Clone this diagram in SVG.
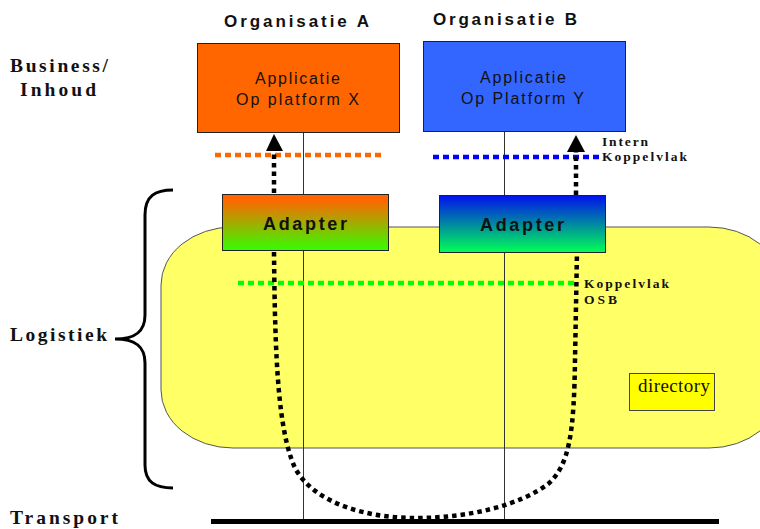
<svg xmlns="http://www.w3.org/2000/svg" width="760" height="529" viewBox="0 0 760 529">
  <defs>
    <linearGradient id="gradA" x1="0" y1="0" x2="0" y2="1">
      <stop offset="0" stop-color="#FF6600"/>
      <stop offset="0.1" stop-color="#FF6600"/>
      <stop offset="1" stop-color="#33FF00"/>
    </linearGradient>
    <linearGradient id="gradB" x1="0" y1="0" x2="0" y2="1">
      <stop offset="0" stop-color="#0011EE"/>
      <stop offset="1" stop-color="#00FF55"/>
    </linearGradient>
    <style>
      .layer { font-family: "Liberation Serif", "Times New Roman", serif; font-weight: bold; font-size: 19.5px; fill: #111; }
      .org { font-family: "Liberation Sans", Arial, sans-serif; font-weight: bold; font-size: 17px; fill: #111; }
      .app { font-family: "Liberation Sans", Arial, sans-serif; font-size: 16px; fill: #111; }
      .adapter { font-family: "Liberation Sans", Arial, sans-serif; font-weight: bold; font-size: 18px; fill: #111; }
      .note { font-family: "Liberation Serif", "Times New Roman", serif; font-weight: bold; font-size: 13.5px; fill: #111; }
      .dir { font-family: "Liberation Serif", "Times New Roman", serif; font-size: 19px; fill: #111; }
      .box { stroke: #222; stroke-width: 1; }
      .vline { stroke: #333; stroke-width: 1; fill: none; }
      .iface { stroke-width: 4.5; stroke-dasharray: 6 4; fill: none; }
      .flow { stroke: #000; stroke-width: 4.5; stroke-dasharray: 4.5 4; fill: none; }
      .head { fill: #000; }
    </style>
  </defs>

  <!-- layer labels -->
  <text class="layer" x="10" y="72" textLength="98" lengthAdjust="spacing">Business/</text>
  <text class="layer" x="20" y="96" textLength="76" lengthAdjust="spacing">Inhoud</text>
  <text class="layer" x="10" y="341" textLength="97" lengthAdjust="spacing">Logistiek</text>
  <text class="layer" x="10" y="524" textLength="108" lengthAdjust="spacing">Transport</text>

  <!-- brace around the logistics layer -->
  <path d="M173,190 C155,190 145,196 145,215 L145,315 C145,332 135,339 115,339 C135,339 145,346 145,363 L145,465 C145,482 155,488 173,488" fill="none" stroke="#000" stroke-width="3"/>

  <!-- service bus -->
  <g id="osb">
    <rect x="161" y="227" width="620" height="221" rx="72" ry="58" fill="#FFFF66" stroke="#555" stroke-width="1"/>
  </g>

  <!-- transport line -->
  <g id="transport">
    <rect x="211" y="519" width="508" height="5" fill="#000"/>
  </g>

  <g id="connectors">
    <!-- vertical platform lines -->
    <line class="vline" x1="303.5" y1="133" x2="303.5" y2="519"/>
    <line class="vline" x1="504.5" y1="132" x2="504.5" y2="519"/>
    <!-- interface lines -->
    <line class="iface" x1="215" y1="155" x2="382" y2="155" stroke="#FF6600"/>
    <line class="iface" x1="433" y1="157" x2="600" y2="157" stroke="#0000FF"/>
    <line class="iface" x1="238" y1="283" x2="577" y2="283" stroke="#00FF00"/>
    <!-- message route -->
    <path class="flow" d="M274,252 C275,360 278,430 295,468 C315,505 370,518 415,518 C470,518 520,505 548,484 C570,465 574,430 575,360 L577,252"/>
    <line class="flow" x1="274" y1="193" x2="274" y2="150"/>
    <line class="flow" x1="576" y1="195" x2="576" y2="151"/>
    <polygon class="head" points="274,134 266,151 283,151"/>
    <polygon class="head" points="576,135 567,152 585,152"/>
  </g>

  <!-- organisation A -->
  <g id="orgA">
    <text class="org" x="224" y="27" textLength="145" lengthAdjust="spacing">Organisatie A</text>
  </g>
  <g id="appA">
    <rect class="box" x="197.5" y="43.5" width="202" height="89" fill="#FF6600"/>
    <text class="app" x="255" y="84" textLength="85" lengthAdjust="spacing">Applicatie</text>
    <text class="app" x="236" y="105" textLength="123" lengthAdjust="spacing">Op platform X</text>
  </g>
  <g id="adapterA">
    <rect class="box" x="222.5" y="194.5" width="166" height="56" fill="url(#gradA)"/>
    <text class="adapter" x="263" y="230" textLength="84" lengthAdjust="spacing">Adapter</text>
  </g>

  <!-- organisation B -->
  <g id="orgB">
    <text class="org" x="433" y="25" textLength="144" lengthAdjust="spacing">Organisatie B</text>
  </g>
  <g id="appB">
    <rect class="box" x="423.5" y="41.5" width="202" height="90" fill="#3366FF"/>
    <text class="app" x="480" y="83" textLength="86" lengthAdjust="spacing">Applicatie</text>
    <text class="app" x="461" y="104" textLength="123" lengthAdjust="spacing">Op Platform Y</text>
  </g>
  <g id="adapterB">
    <rect class="box" x="439.5" y="195.5" width="166" height="57" fill="url(#gradB)"/>
    <text class="adapter" x="480" y="231" textLength="84" lengthAdjust="spacing">Adapter</text>
  </g>

  <!-- interface notes -->
  <g id="internNote">
    <text class="note" x="602" y="145.5" textLength="46" lengthAdjust="spacing">Intern</text>
    <text class="note" x="602" y="161" textLength="85" lengthAdjust="spacing">Koppelvlak</text>
  </g>
  <g id="osbNote">
    <text class="note" x="584" y="288" textLength="85" lengthAdjust="spacing">Koppelvlak</text>
    <text class="note" x="584" y="303.5" textLength="33" lengthAdjust="spacing">OSB</text>
  </g>

  <!-- directory -->
  <g id="directory">
    <rect x="629.5" y="373.5" width="85" height="37" fill="#FFFF00" stroke="#444" stroke-width="1"/>
    <text class="dir" x="638" y="392" textLength="72" lengthAdjust="spacing">directory</text>
  </g>
</svg>
